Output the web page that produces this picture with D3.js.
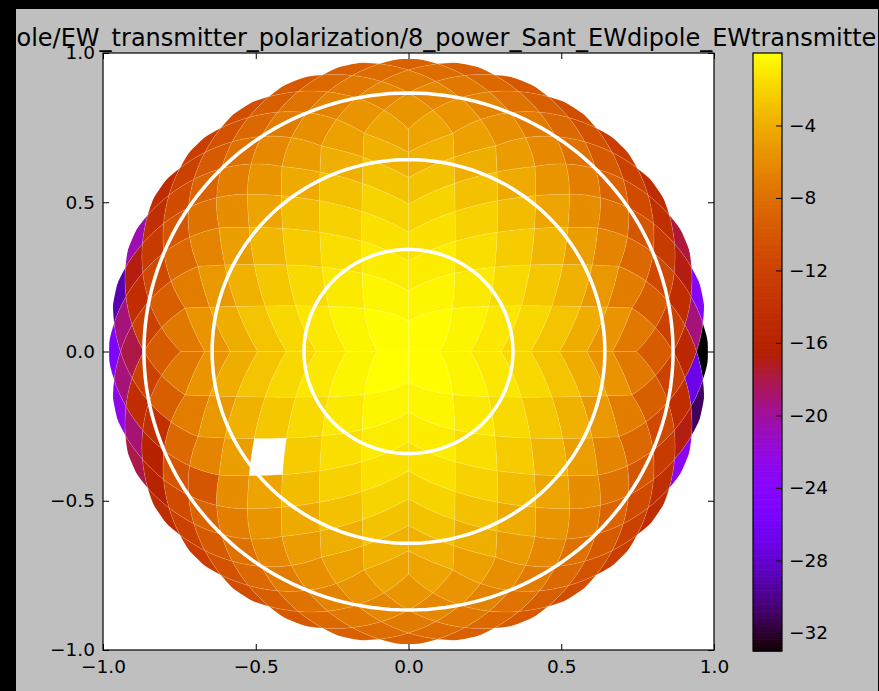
<!DOCTYPE html>
<html>
<head>
<meta charset="utf-8">
<script src="https://cdn.jsdelivr.net/npm/d3@7"></script>
<style>
  html, body { margin: 0; padding: 0; background: #000; }
  svg { display: block; }
  text { font-family: "DejaVu Sans", sans-serif; fill: #000; }
</style>
</head>
<body>
<svg id="fig" width="879" height="691"></svg>
<script>
// ---- sky map data: power (dB) per HEALPix pixel, RING order, Nside = 8 ----
// ring k holds the pixels of iso-latitude ring k, starting at phi ~ 0 (east), counter-clockwise
const NSIDE = 8;
const ring1 = [-0.10, -0.04, 0.0, -0.08];
const ring2 = [-0.50, -0.38, -0.38, -0.50, -0.50, -0.38, -0.38, -0.50];
const ring3 = [-1.05, -0.92, -0.80, -0.80, -0.92, -1.05, -1.05, -0.92, -0.80, -0.80, -0.92, -1.05];
const ring4 = [-1.80, -1.66, -1.47, -1.33, -1.33, -1.47, -1.66, -1.80,
               -1.80, -1.66, -1.47, -1.33, -1.33, -1.47, -1.66, -1.80];
const ring5 = [-2.76, -2.60, -2.35, -2.12, -1.98, -1.98, -2.12, -2.35, -2.60, -2.76,
               -2.76, -2.60, -2.35, -2.12, -1.98, -1.98, -2.12, -2.35, -2.60, -2.76];
const ring6 = [-3.98, -3.80, -3.50, -3.19, -2.95, -2.81, -2.81, -2.95, -3.19, -3.50, -3.80, -3.98,
               -3.98, -3.80, null, -3.19, -2.95, -2.81, -2.81, -2.95, -3.19, -3.50, -3.80, -3.98];
const ring7 = [-5.47, -5.25, -4.89, -4.50, -4.15, -3.90, -3.77, -3.77, -3.90, -4.15, -4.50, -4.89, -5.25, -5.47,
               -5.47, -5.25, -4.89, -4.50, -4.15, -3.90, -3.77, -3.77, -3.90, -4.15, -4.50, -4.89, -5.25, -5.47];
const ring8 = [-7.26, -6.96, -6.47, -5.92, -5.41, -5.00, -4.71, -4.57, -4.57, -4.71, -5.00, -5.41, -5.92, -6.47, -6.96, -7.26,
               -7.26, -6.96, -6.47, -5.92, -5.41, -5.00, -4.71, -4.57, -4.57, -4.71, -5.00, -5.41, -5.92, -6.47, -6.96, -7.26];
const ring9 = [-9.23, -8.55, -7.72, -6.92, -6.27, -5.79, -5.50, -5.40, -5.50, -5.79, -6.27, -6.92, -7.72, -8.55, -9.23, -9.50,
               -9.23, -8.55, -10.00, -6.92, -6.27, -5.79, -5.50, -5.40, -5.50, -5.79, -6.27, -6.92, -7.72, -8.55, -9.23, -9.50];
const ring10 = [-12.08, -11.24, -10.02, -8.83, -7.83, -7.07, -6.58, -6.33, -6.33, -6.58, -7.07, -7.83, -8.83, -10.02, -11.24, -12.08,
                -12.08, -14.00, -10.02, -8.83, -7.83, -7.07, -6.58, -6.33, -6.33, -6.58, -7.07, -7.83, -8.83, -10.02, -11.24, -12.08];
const ring11 = [-14.53, -12.85, -11.12, -9.66, -8.56, -7.80, -7.35, -7.20, -7.35, -7.80, -8.56, -9.66, -11.12, -12.85, -14.53, -18.00,
                -14.53, -16.00, -11.12, -9.66, -8.56, -7.80, -7.35, -7.20, -7.35, -7.80, -8.56, -9.66, -11.12, -12.85, -14.53, -15.30];
const ring12 = [-19.12, -16.83, -14.20, -12.03, -10.39, -9.24, -8.50, -8.15, -8.15, -8.50, -9.24, -10.39, -12.03, -14.20, -16.83, -19.12,
                -19.12, -19.00, -16.00, -12.03, -10.39, -9.24, -8.50, -8.15, -8.15, -8.50, -9.24, -10.39, -12.03, -14.20, -16.83, -27.00];
const ring13 = [-24.00, -17.72, -14.66, -12.42, -10.85, -9.80, -9.20, -9.00, -9.20, -9.80, -10.85, -12.42, -14.66, -20.50, -29.00, -25.00,
                -22.50, -18.00, -14.66, -12.42, -10.85, -9.80, -9.20, -9.00, -9.20, -9.80, -10.85, -12.42, -14.66, -23.00, -31.00, -33.00];
const rings = [ring1, ring2, ring3, ring4, ring5, ring6, ring7, ring8, ring9, ring10, ring11, ring12, ring13];

const titleText = "EWdipole/EW_transmitter_polarization/8_power_Sant_EWdipole_EWtransmitter";
const xTicks = [-1.0, -0.5, 0.0, 0.5, 1.0];
const yTicks = [-1.0, -0.5, 0.0, 0.5, 1.0];
const cbarTicks = [-4, -8, -12, -16, -20, -24, -28, -32];
const zenithCircles = [20, 40, 60];   // degrees from zenith
const horizonZenith = 78.5;           // map is cut at this zenith angle (degrees)

// ---- layout ----
const fig = { x0: 16, y0: 9, x1: 878, y1: 691 };
const ax = { left: 103, right: 714, top: 53, bottom: 650 };
const cb = { left: 753, right: 782, top: 53, bottom: 651 };
const TICK = 6;

const svg = d3.select("#fig");
svg.append("rect").attr("x", fig.x0).attr("y", fig.y0)
  .attr("width", fig.x1 - fig.x0).attr("height", fig.y1 - fig.y0).attr("fill", "#bfbfbf");
svg.append("clipPath").attr("id", "figclip").append("rect")
  .attr("x", fig.x0).attr("y", fig.y0).attr("width", fig.x1 - fig.x0).attr("height", fig.y1 - fig.y0);

const x = d3.scaleLinear().domain([-1, 1]).range([ax.left, ax.right]);
const y = d3.scaleLinear().domain([-1, 1]).range([ax.bottom, ax.top]);

// matplotlib "gnuplot" colormap
function gnuplot(t) {
  t = Math.max(0, Math.min(1, t));
  const r = Math.sqrt(t), g = t * t * t, b = Math.max(0, Math.min(1, Math.sin(2 * Math.PI * t)));
  return d3.rgb(r * 255, g * 255, b * 255).formatHex();
}
const allVals = rings.flat().filter(v => v !== null);
const [vmin, vmax] = d3.extent(allVals);
const norm = d3.scaleLinear().domain([vmin, vmax]).range([0, 1]).clamp(true);
const color = v => gnuplot(norm(v));

// ---- HEALPix geometry ----
const jrll = [2, 2, 2, 2, 3, 3, 3, 3, 4, 4, 4, 4];
const jpll = [1, 3, 5, 7, 0, 2, 4, 6, 1, 3, 5, 7];
function xyf2loc(fx, fy, face) {
  const jr = jrll[face] - fx - fy;
  let nr, z;
  if (jr < 1) { nr = jr; z = 1 - nr * nr / 3; }
  else if (jr > 3) { nr = 4 - jr; z = nr * nr / 3 - 1; }
  else { nr = 1; z = (2 - jr) * 2 / 3; }
  let tmp = jpll[face] * nr + fx - fy;
  if (tmp < 0) tmp += 8;
  if (tmp >= 8) tmp -= 8;
  const phi = nr < 1e-15 ? 0 : (Math.PI / 4) * tmp / nr;
  return { z, phi };
}
// orthographic view from the zenith
function project(loc) {
  const s = Math.sqrt(Math.max(0, 1 - loc.z * loc.z));
  return [s * Math.cos(loc.phi), s * Math.sin(loc.phi)];
}
function ringIndex(loc) {
  const z = loc.z;
  let i;
  if (z > 2 / 3 + 1e-9) i = Math.round(Math.sqrt(3 * (1 - z)) * NSIDE);
  else i = Math.round((4 / 3 - z) * 1.5 * NSIDE);
  let j, n;
  if (i < NSIDE) { n = 4 * i; j = Math.round(loc.phi * 2 * i / Math.PI + 0.5); }
  else {
    n = 4 * NSIDE;
    const s = (i - NSIDE + 1) % 2;
    j = Math.round(loc.phi * 2 * NSIDE / Math.PI + s / 2);
  }
  j = ((j - 1) % n + n) % n + 1;
  return { i, j };
}

const STEP = 4;
const cells = [];
for (let face = 0; face < 8; face++) {
  for (let ix = 0; ix < NSIDE; ix++) {
    for (let iy = 0; iy < NSIDE; iy++) {
      const dc = 0.5 / NSIDE, xc = (ix + 0.5) / NSIDE, yc = (iy + 0.5) / NSIDE, d = 1 / (STEP * NSIDE);
      const c = xyf2loc(xc, yc, face);
      const { i, j } = ringIndex(c);
      if (i < 1 || i > rings.length) continue;
      const value = rings[i - 1][j - 1];
      const pts = [];
      for (let k = 0; k < STEP; k++) pts.push(project(xyf2loc(xc + dc - k * d, yc + dc, face)));
      for (let k = 0; k < STEP; k++) pts.push(project(xyf2loc(xc - dc, yc + dc - k * d, face)));
      for (let k = 0; k < STEP; k++) pts.push(project(xyf2loc(xc - dc + k * d, yc - dc, face)));
      for (let k = 0; k < STEP; k++) pts.push(project(xyf2loc(xc + dc, yc - dc + k * d, face)));
      cells.push({ value, pts });
    }
  }
}

// ---- axes area ----
svg.append("rect").attr("x", ax.left).attr("y", ax.top)
  .attr("width", ax.right - ax.left).attr("height", ax.bottom - ax.top).attr("fill", "#fff");
svg.append("clipPath").attr("id", "axclip").append("rect")
  .attr("x", ax.left).attr("y", ax.top).attr("width", ax.right - ax.left).attr("height", ax.bottom - ax.top);

const ringPath = (r, stepDeg) => d3.line().x(p => x(p[0])).y(p => y(p[1]))(
  d3.range(0, 360, stepDeg).map(a => [r * Math.cos(a * Math.PI / 180), r * Math.sin(a * Math.PI / 180)])) + "Z";

// horizon cut of the map
svg.append("clipPath").attr("id", "horizon").append("path")
  .attr("d", ringPath(Math.sin(horizonZenith * Math.PI / 180), 1));

const plot = svg.append("g").attr("clip-path", "url(#axclip)");
const cellLine = d3.line().x(p => x(p[0])).y(p => y(p[1]));
plot.append("g").attr("clip-path", "url(#horizon)")
  .selectAll("path")
  .data(cells.filter(c => c.value !== null))
  .join("path")
  .attr("d", c => cellLine(c.pts) + "Z")
  .attr("fill", c => color(c.value))
  .attr("stroke", "#fff").attr("stroke-opacity", 0.2).attr("stroke-width", 0.6);

// zenith-angle circles
plot.append("g").selectAll("path")
  .data(zenithCircles)
  .join("path")
  .attr("d", za => ringPath(Math.sin(za * Math.PI / 180), 2))
  .attr("fill", "none").attr("stroke", "#fff").attr("stroke-width", 3.5);

// axes ticks (inward, on all four sides)
const fmt = v => v.toFixed(1).replace("-", "\u2212");
function styleAxis(g) {
  g.select(".domain").remove();
  g.selectAll(".tick line").attr("stroke", "#000").attr("stroke-width", 1);
  g.selectAll(".tick text").attr("font-size", 18.5).attr("font-family", "DejaVu Sans").attr("fill", "#000");
}
svg.append("g").attr("transform", `translate(0,${ax.bottom})`)
  .call(d3.axisBottom(x).tickValues(xTicks).tickFormat(fmt).tickSize(-TICK).tickPadding(10)).call(styleAxis);
svg.append("g").attr("transform", `translate(0,${ax.top})`)
  .call(d3.axisTop(x).tickValues(xTicks).tickFormat("").tickSize(-TICK)).call(styleAxis);
svg.append("g").attr("transform", `translate(${ax.left},0)`)
  .call(d3.axisLeft(y).tickValues(yTicks).tickFormat(fmt).tickSize(-TICK).tickPadding(8)).call(styleAxis);
svg.append("g").attr("transform", `translate(${ax.right},0)`)
  .call(d3.axisRight(y).tickValues(yTicks).tickFormat("").tickSize(-TICK)).call(styleAxis);
svg.append("rect").attr("x", ax.left).attr("y", ax.top)
  .attr("width", ax.right - ax.left).attr("height", ax.bottom - ax.top)
  .attr("fill", "none").attr("stroke", "#000").attr("stroke-width", 1.2);

// ---- colorbar ----
const cy = d3.scaleLinear().domain([vmin, vmax]).range([cb.bottom, cb.top]);
const nBands = 256;
svg.append("g").selectAll("rect")
  .data(d3.range(nBands))
  .join("rect")
  .attr("x", cb.left)
  .attr("width", cb.right - cb.left)
  .attr("y", k => cy(vmin + (k + 1) * (vmax - vmin) / nBands))
  .attr("height", k => cy(vmin + k * (vmax - vmin) / nBands) - cy(vmin + (k + 1) * (vmax - vmin) / nBands) + 0.6)
  .attr("fill", k => gnuplot((k + 0.5) / nBands));
svg.append("g").attr("transform", `translate(${cb.right},0)`)
  .call(d3.axisRight(cy).tickValues(cbarTicks).tickFormat(v => String(v).replace("-", "\u2212")).tickSize(-TICK).tickPadding(7))
  .call(styleAxis);
svg.append("rect").attr("x", cb.left).attr("y", cb.top)
  .attr("width", cb.right - cb.left).attr("height", cb.bottom - cb.top)
  .attr("fill", "none").attr("stroke", "#000").attr("stroke-width", 1.2);

// ---- title (long path, cut by the figure edge) ----
const tg = svg.append("g").attr("clip-path", "url(#figclip)");
const title = tg.append("text").attr("y", 46).attr("font-size", 24).text(titleText);
// the string starts left of the figure edge so that "...ole/EW_transmitter" begins at it
const probe = tg.append("text").attr("font-size", 24).text("EWdip");
const prefixW = probe.node().getComputedTextLength();
probe.remove();
title.attr("x", 16.5 - prefixW);
</script>
</body>
</html>
